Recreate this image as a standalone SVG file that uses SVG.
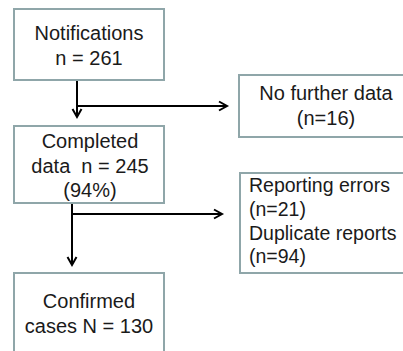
<svg xmlns="http://www.w3.org/2000/svg" width="403" height="351" viewBox="0 0 403 351">
<style>
.box{fill:#ffffff;stroke:#8fa6a9;stroke-width:2}
.t{font-family:"Liberation Sans",Arial,sans-serif;font-size:20px;fill:#1a1a1a}
.c{text-anchor:middle}
.ln{fill:none;stroke:#000;stroke-width:2}
</style>
<defs>
<marker id="ah" markerUnits="userSpaceOnUse" markerWidth="12" markerHeight="12" refX="9" refY="5" orient="auto" viewBox="0 0 12 10">
<path d="M1,0.5 L9,5 L1,9.5" fill="none" stroke="#000" stroke-width="2"/>
</marker>
</defs>
<rect width="403" height="351" fill="#ffffff"/>
<g id="connectors">
<path class="ln" d="M77,80 V117" marker-end="url(#ah)"/>
<path class="ln" d="M77,106 H227" marker-end="url(#ah)"/>
<path class="ln" d="M72,203 V265" marker-end="url(#ah)"/>
<path class="ln" d="M72,214 H222" marker-end="url(#ah)"/>
</g>
<g id="notifications">
<rect class="box" x="14" y="9" width="150" height="71"/>
<text class="t c" x="89" y="40">Notifications</text>
<text class="t c" x="89" y="64.5">n = 261</text>
</g>
<g id="completed">
<rect class="box" x="14" y="126" width="150" height="77"/>
<text class="t c" x="90" y="148">Completed</text>
<text class="t c" x="90" y="172.5" xml:space="preserve">data  n = 245</text>
<text class="t c" x="90" y="197">(94%)</text>
</g>
<g id="confirmed">
<rect class="box" x="14" y="273" width="150" height="90"/>
<text class="t c" x="89" y="308">Confirmed</text>
<text class="t c" x="89" y="333">cases N = 130</text>
</g>
<g id="nofurther">
<rect class="box" x="239" y="75" width="180" height="62"/>
<text class="t c" x="326" y="100">No further data</text>
<text class="t c" x="326" y="125">(n=16)</text>
</g>
<g id="errors">
<rect class="box" x="240" y="173" width="180" height="100"/>
<text class="t" x="249" y="192" style="font-size:19.5px">Reporting errors</text>
<text class="t" x="249" y="216" style="font-size:19.5px">(n=21)</text>
<text class="t" x="249" y="239.5" style="font-size:19.5px">Duplicate reports</text>
<text class="t" x="249" y="263" style="font-size:19.5px">(n=94)</text>
</g>
</svg>
